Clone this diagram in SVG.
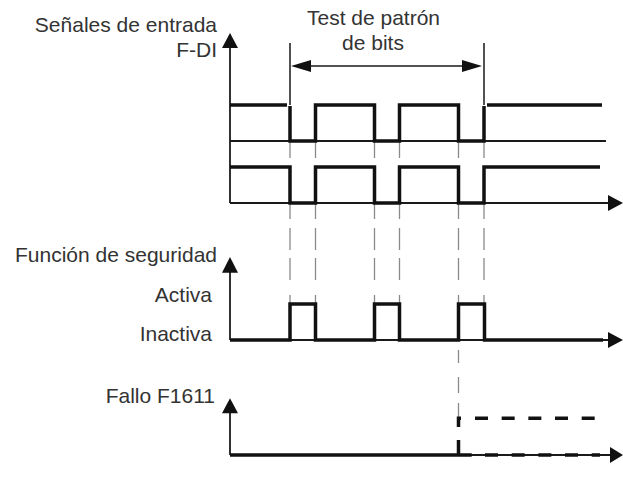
<svg xmlns="http://www.w3.org/2000/svg" width="623" height="482" viewBox="0 0 623 482">
<style>
.t{font-family:"Liberation Sans",Arial,sans-serif;font-size:21px;fill:#333}
.e{text-anchor:end}
.m{text-anchor:middle}
.thin{stroke:#1a1a1a;stroke-width:1.8;fill:none}
.dim{stroke:#1a1a1a;stroke-width:1.5;fill:none}
.thick{stroke:#111;stroke-width:3.5;fill:none;stroke-linejoin:miter;stroke-linecap:butt}
.dsh{stroke:#111;stroke-width:3.5;fill:none;stroke-dasharray:13 13.67}
.guide{stroke:#8a8a8a;stroke-width:1.3;fill:none}
.ah{fill:#111}
</style>
<rect width="623" height="482" fill="#fff"/>

<g id="labels">
<text class="t e" x="217" y="32">Señales de entrada</text>
<text class="t e" x="217" y="57">F-DI</text>
<text class="t m" x="373.5" y="25">Test de patrón</text>
<text class="t m" x="373" y="50">de bits</text>
<text class="t e" x="217" y="262">Función de seguridad</text>
<text class="t e" x="212" y="302">Activa</text>
<text class="t e" x="212" y="341">Inactiva</text>
<text class="t e" x="215" y="403">Fallo F1611</text>
</g>

<g id="guides">
<path class="guide" d="M290,142V158 M315.5,142V158 M374.5,142V158 M399.5,142V158 M458.5,142V158 M484,142V158"/>
<path class="guide" d="M290,204V219 M290,228V250 M290,258V280 M290,295V303
M315.5,204V219 M315.5,228V250 M315.5,258V280 M315.5,295V303
M374.5,204V219 M374.5,228V250 M374.5,258V280 M374.5,295V303
M399.5,204V219 M399.5,228V250 M399.5,258V280 M399.5,295V303
M458.5,204V219 M458.5,228V250 M458.5,258V280 M458.5,295V303
M484,204V219 M484,228V250 M484,258V280 M484,295V303
M458.5,350V363 M458.5,377V393 M458.5,403V417"/>
</g>

<g id="test-window">
<path class="dim" d="M290,43V105 M484,43V105 M308,66H464"/>
<polygon class="ah" points="291,66 311,60 311,72"/>
<polygon class="ah" points="482,66 462,60 462,72"/>
</g>

<g id="fdi">
<line class="thin" x1="230" y1="47" x2="230" y2="203"/>
<polygon class="ah" points="230,33 222,48 238,48"/>
<line class="thin" x1="230" y1="141" x2="606" y2="141"/>
<line class="thin" x1="230" y1="203" x2="610" y2="203"/>
<polygon class="ah" points="608,195 608,211 623,203"/>
<path class="thick" d="M230,105H287 M290,106V141H315.5V105H374.5V141H399.5V105H458.5V141H484V106 M487,105H602"/>
<path class="thick" d="M230,167H290V203H315.5V167H374.5V203H399.5V167H458.5V203H484V167H600"/>
</g>

<g id="funcion">
<line class="thin" x1="230" y1="271" x2="230" y2="340"/>
<polygon class="ah" points="230,257 222,272.7 238,272.7"/>
<line class="thin" x1="230" y1="340" x2="610" y2="340"/>
<polygon class="ah" points="608,332 608,348 623,340"/>
<path class="thick" d="M230,340H290V304H315.5V340H374.5V304H399.5V340H458.5V304H484.5V340H603"/>
</g>

<g id="fallo">
<line class="thin" x1="230" y1="412" x2="230" y2="455"/>
<polygon class="ah" points="230,398.3 222,413.3 238,413.3"/>
<line class="thin" x1="230" y1="455" x2="612" y2="455"/>
<polygon class="ah" points="610,447 610,463 623,455"/>
<path class="thick" d="M230,455H471.7 M458.5,455V440 M458.5,427V418.3H461"/>
<line class="dsh" x1="485" y1="455" x2="600" y2="455"/>
<line class="dsh" x1="475" y1="418.3" x2="595" y2="418.3"/>
</g>
</svg>
